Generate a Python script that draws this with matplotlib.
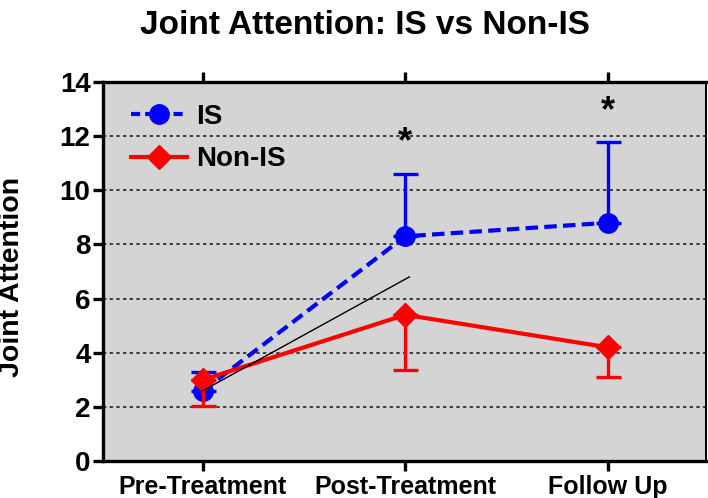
import matplotlib
matplotlib.use('Agg')
import matplotlib.pyplot as plt
from matplotlib.lines import Line2D
import numpy as np

plt.rcParams['font.family'] = ['Liberation Sans', 'DejaVu Sans']
plt.rcParams['font.weight'] = 'bold'

# group means and one-sided error bars
phases = ['Pre-Treatment', 'Post-Treatment', 'Follow Up']
is_mean = [2.6, 8.3, 8.8]
is_err_up = [0.7, 2.3, 3.0]
non_is_mean = [3.0, 5.4, 4.2]
non_is_err_down = [0.95, 2.05, 1.1]
sig_phase = [1, 2]
sig_y = [11.75, 12.9]
trend_x = [0, 1.02]
trend_y = [2.6, 6.8]

blue = '#0000ff'
red = '#ff0000'

x = np.arange(len(phases))

fig = plt.figure(figsize=(7.08, 4.98), dpi=100)
ax = fig.add_axes([103/708, 37/498, 603/708, 379/498])
ax.set_facecolor('#d4d4d4')

for y in range(2, 14, 2):
    ax.axhline(y, color='#222222', lw=1.2, ls=(0, (2, 2)), zorder=1)

ax.errorbar(x, is_mean, yerr=[np.zeros(3), is_err_up], color=blue, lw=3,
            dashes=(3, 1.5), marker='o', ms=14, elinewidth=2.4, capsize=9,
            capthick=2.4, zorder=3)
ax.errorbar(x, non_is_mean, yerr=[non_is_err_down, np.zeros(3)], color=red,
            lw=3, marker='D', ms=12, elinewidth=2.4, capsize=9, capthick=2.4,
            zorder=4)

ax.plot(trend_x, trend_y, color='black', lw=1, zorder=5)

for px, py in zip(sig_phase, sig_y):
    ax.text(px, py, '*', ha='center', va='center', fontsize=26, fontweight='bold')

ax.set_xlim(-0.494, 2.486)
ax.set_ylim(0, 14)
ax.set_yticks(range(0, 15, 2))
ax.set_xticks(x)
ax.set_xticklabels(phases)
ax.tick_params(axis='y', labelsize=20, width=2.4, length=7, direction='out', pad=2)
ax.tick_params(axis='x', labelsize=18, width=2.4, length=7, direction='out',
               top=True, pad=3)

for side in ['left', 'bottom', 'top']:
    ax.spines[side].set_linewidth(2.4)
ax.spines['right'].set_linewidth(1.4)

ax.set_ylabel('Joint Attention', fontsize=20.5, fontweight='bold')
ax.yaxis.set_label_coords(-0.13, 0.485)

handles = [
    Line2D([], [], color=blue, lw=3, dashes=(2.2, 1.2), marker='o', ms=14),
    Line2D([], [], color=red, lw=3, marker='D', ms=12),
]
ax.legend(handles, ['IS', 'Non-IS'], loc='upper left',
          bbox_to_anchor=(0.028, 0.972), frameon=False, fontsize=20,
          handlelength=2.0, handletextpad=0.35, labelspacing=0.6,
          borderaxespad=0)

fig.text(365/708, 1 - 26/498, 'Joint Attention: IS vs Non-IS', ha='center',
         va='center', fontsize=24, fontweight='bold')

fig.savefig('out.png', dpi=100)
